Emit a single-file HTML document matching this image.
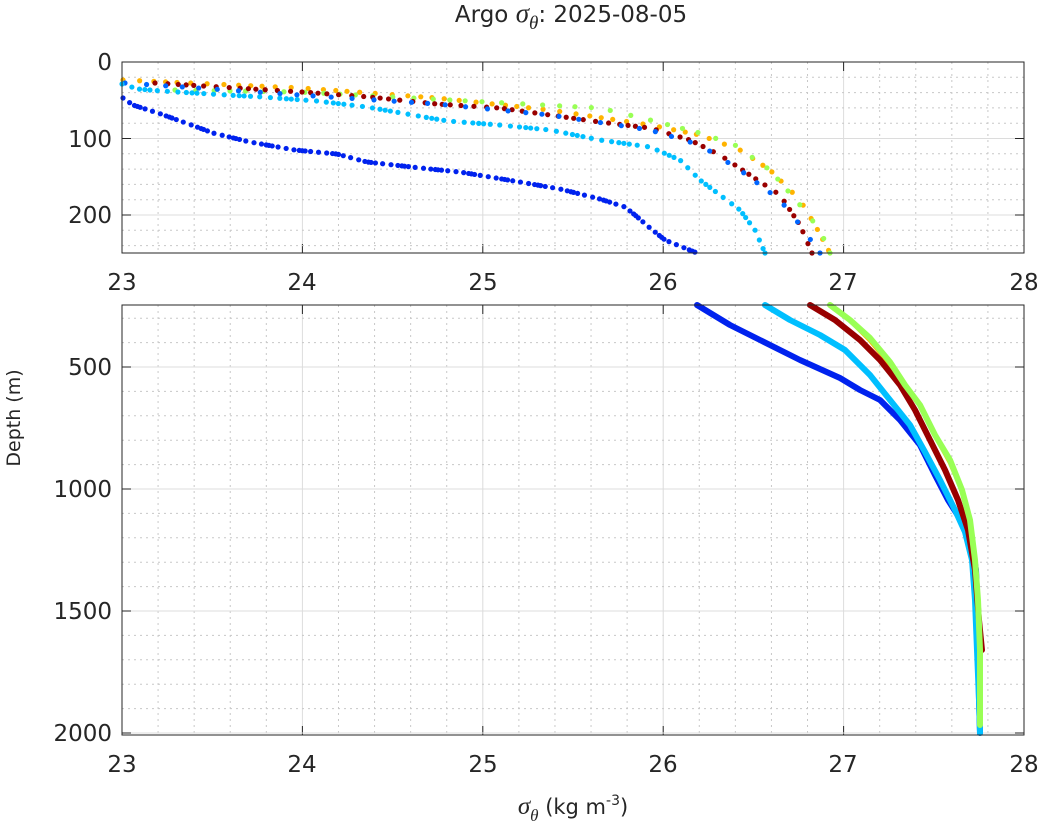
<!DOCTYPE html>
<html><head><meta charset="utf-8"><style>
body{margin:0;background:#fff;width:1044px;height:835px;overflow:hidden}
svg text{font-family:"DejaVu Sans","Liberation Sans",sans-serif;fill:#262626}
</style></head><body>
<svg id="s" width="1044" height="835" xmlns="http://www.w3.org/2000/svg">
<g id="grid"></g>
<g id="data"></g>
<rect x="122" y="62" width="902" height="191" fill="none" stroke="#262626" stroke-width="1"/>
<rect x="122" y="305" width="902" height="430" fill="none" stroke="#262626" stroke-width="1"/>
<g font-size="23" text-anchor="end">
<text x="112" y="70">0</text><text x="112" y="147">100</text><text x="112" y="223">200</text>
<text x="112" y="375">500</text><text x="112" y="497">1000</text><text x="112" y="619">1500</text><text x="112" y="741">2000</text>
</g>
<g font-size="23" text-anchor="middle">
<text x="122" y="290">23</text><text x="302" y="290">24</text><text x="483" y="290">25</text><text x="663" y="290">26</text><text x="843" y="290">27</text><text x="1024" y="290">28</text>
<text x="122" y="772">23</text><text x="302" y="772">24</text><text x="483" y="772">25</text><text x="663" y="772">26</text><text x="843" y="772">27</text><text x="1024" y="772">28</text>
</g>
<text x="571" y="22" font-size="23" text-anchor="middle">Argo <tspan font-family="Liberation Serif" font-style="italic" font-size="27">σ</tspan><tspan font-family="Liberation Serif" font-style="italic" font-size="19" dy="7">θ</tspan><tspan dy="-7">: 2025-08-05</tspan></text>
<text x="573" y="814" font-size="21" text-anchor="middle"><tspan font-family="Liberation Serif" font-style="italic" font-size="25">σ</tspan><tspan font-family="Liberation Serif" font-style="italic" font-size="17" dy="7">θ</tspan><tspan dy="-7"> (kg m</tspan><tspan font-size="14" dy="-9">-3</tspan><tspan dy="9">)</tspan></text>
<text transform="translate(20,418) rotate(-90)" font-size="19" text-anchor="middle">Depth (m)</text>
</svg>
<script>
var NS="http://www.w3.org/2000/svg",g=document.getElementById('grid'),d=document.getElementById('data');
function el(p,t,a){var e=document.createElementNS(NS,t);for(var k in a)e.setAttribute(k,a[k]);p.appendChild(e);return e;}
function line(x1,y1,x2,y2,c,da,w){el(g,'line',{x1:x1,y1:y1,x2:x2,y2:y2,stroke:c,'stroke-width':w||1,'stroke-dasharray':da||''});}
var X=function(v){return 122+(v-23)*180.4;};
[[62,253],[305,735]].forEach(function(r){
 for(var v=23;v<=28.001;v+=0.2){var x=X(v);var maj=Math.abs(v-Math.round(v))<0.01;
  if(maj) line(x,r[0],x,r[1],'#dcdcdc'); else line(x,r[0],x,r[1],'#c8c8c8','2,4');
  if(maj){line(x,r[1],x,r[1]-9,'#262626');line(x,r[0],x,r[0]+9,'#262626');}}
});
for(var dd=0;dd<=250;dd+=20){var y=62+dd*0.765;line(122,y,1024,y,'#c8c8c8','2,4');}
[0,100,200].forEach(function(dd){var y=62+dd*0.765;line(122,y,1024,y,'#dcdcdc');line(122,y,131,y,'#262626');line(1024,y,1015,y,'#262626');});
for(dd=300;dd<=2000;dd+=100){var y=367+(dd-500)*0.244;line(122,y,1024,y,'#c8c8c8','2,4');}
[500,1000,1500,2000].forEach(function(dd){var y=367+(dd-500)*0.244;line(122,y,1024,y,'#dcdcdc');line(122,y,131,y,'#262626');line(1024,y,1015,y,'#262626');});
function dots(pts,c,n){var L=[],tot=0;for(var i=1;i<pts.length;i++){var l=Math.hypot(pts[i][0]-pts[i-1][0],pts[i][1]-pts[i-1][1]);L.push(l);tot+=l;}
 for(var k=0;k<n;k++){var s=tot*k/(n-1)+(Math.sin(k*7.3)*3),acc=0;for(i=0;i<L.length;i++){if(s<=acc+L[i]||i==L.length-1){var f=Math.max(0,Math.min(1,(s-acc)/L[i]));
 el(d,'circle',{cx:pts[i][0]+f*(pts[i+1][0]-pts[i][0]),cy:pts[i][1]+f*(pts[i+1][1]-pts[i][1]),r:2.6,fill:c});break;}acc+=L[i];}}}
function pl(pts,c,w){el(d,'polyline',{points:pts.map(function(p){return p.join(',')}).join(' '),fill:'none',stroke:c,'stroke-width':w||5,'stroke-linejoin':'round','stroke-linecap':'round'});}
// top panel
dots([[123,80],[302,88],[370,93],[437,98],[550,110],[650,125],[700,135],[740,150],[770,170],[800,200],[815,225],[830,253]],'#ffb300',55);
dots([[175,90],[300,92],[450,100],[600,108],[650,120],[700,133],[735,145],[770,170],[800,205],[820,230],[830,253]],'#99ff55',40);
dots([[155,83],[302,92],[370,97],[437,104],[500,108],[550,115],[600,122],[650,128],[690,140],[720,155],[750,175],[780,195],[800,225],[812,253]],'#990000',70);
dots([[125,83],[300,95],[437,104],[550,115],[650,130],[700,145],[740,170],[780,200],[800,225],[820,253]],'#0066ff',40);
dots([[122,84],[138,89],[162,91],[227,95],[263,97],[317,101],[367,107],[430,118],[448,121],[500,125],[550,130],[600,140],[650,147],[680,160],[700,180],[720,195],[740,210],[755,230],[765,253]],'#00bfff',90);
dots([[123,98],[133,105],[158,113],[172,118],[197,127],[213,133],[250,142],[295,150],[337,154],[367,162],[430,169],[460,172],[490,177],[520,182],[560,189],[600,199],[625,207],[635,215],[650,228],[665,240],[697,253]],'#0022ee',110);
// bottom
pl([[830,305],[850,320],[870,340],[890,364],[905,385],[920,405],[935,435],[950,462],[962,490],[970,520],[975,560],[978,600],[980,650],[980,730]],'#ffb300',5);
pl([[697,305],[730,325],[760,340],[800,360],[840,378],[860,390],[880,400],[900,420],[920,445],[935,475],[948,500],[962,522],[972,545],[976,570],[978,620],[979,700],[980,733]],'#0022ee',6);
pl([[765,305],[790,320],[820,335],[845,350],[870,375],[890,400],[910,425],[925,452],[940,480],[955,510],[965,532],[972,560],[975,600],[977,650],[979,700],[980,733]],'#00bfff',6);
pl([[810,305],[835,320],[860,340],[880,360],[900,385],[915,410],[930,440],[945,470],[958,500],[968,530],[975,570],[979,620],[982,650]],'#990000',6);
pl([[830,305],[850,320],[870,338],[890,362],[905,385],[920,405],[935,435],[950,460],[962,490],[970,520],[975,560],[978,600],[980,650],[980,725]],'#99ff55',6);
</script>
</body></html>
